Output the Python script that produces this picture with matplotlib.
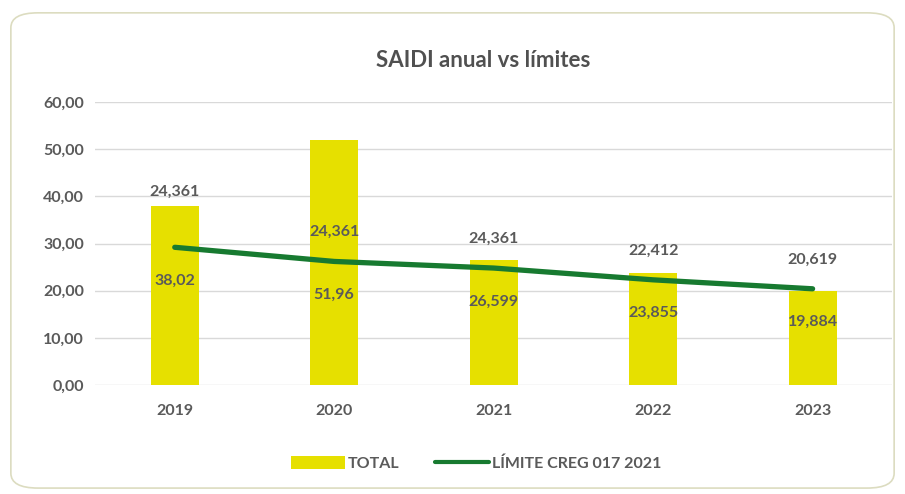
import matplotlib.pyplot as plt
import numpy as np
from matplotlib.patches import FancyBboxPatch

plt.rcParams['font.family'] = ['Lato', 'DejaVu Sans']

years = ["2019", "2020", "2021", "2022", "2023"]
total = [38.02, 51.96, 26.599, 23.855, 19.884]
total_labels = ["38,02", "51,96", "26,599", "23,855", "19,884"]
limite = [29.2, 26.2, 24.8, 22.3, 20.4]
limite_labels = ["24,361", "24,361", "24,361", "22,412", "20,619"]
yticks = [0, 10, 20, 30, 40, 50, 60]

bar_color = "#E6E000"
line_color = "#177A30"
text_color = "#5a5a5a"


def main():
    fig = plt.figure(figsize=(9.05, 4.94), dpi=100)

    # rounded frame around the chart, kept behind the axes
    frame = FancyBboxPatch((0.012, 0.012), 0.976, 0.962, boxstyle="round,pad=0,rounding_size=0.03",
                           transform=fig.transFigure, facecolor="white", edgecolor="#dcdcc0",
                           linewidth=1.2, zorder=-1)
    fig.patches.append(frame)

    ax = fig.add_axes([0.105, 0.2206, 0.881, 0.5729])
    ax.patch.set_alpha(0)
    x = np.arange(len(years))

    bars = ax.bar(x, total, width=0.3, color=bar_color, zorder=2, label="TOTAL")
    line, = ax.plot(x, limite, color=line_color, linewidth=3.8, solid_capstyle="round", zorder=3,
                    label="LÍMITE CREG 017 2021")

    for i in range(len(years)):
        ax.annotate(total_labels[i], (x[i], limite[i]), xytext=(0, -24), textcoords="offset points",
                    ha="center", va="center", fontsize=11.5, color=text_color, fontweight="bold", zorder=4)
        if i == 0:
            base = total[i]
            off = 10
        else:
            base = limite[i]
            off = 21
        ax.annotate(limite_labels[i], (x[i], base), xytext=(0, off), textcoords="offset points",
                    ha="center", va="center", fontsize=11.5, color=text_color, fontweight="bold", zorder=4)

    ax.set_xlim(-0.5, len(years) - 0.5)
    ax.set_ylim(0, 60)
    ax.set_yticks(yticks)
    ax.set_yticklabels(["%d,00" % v for v in yticks], fontweight="bold")
    ax.set_xticks(x)
    ax.set_xticklabels(years, fontweight="bold")
    ax.tick_params(axis="both", length=0, labelsize=11.5, labelcolor=text_color)
    ax.tick_params(axis="x", pad=14)
    ax.tick_params(axis="y", pad=8)
    ax.grid(axis="y", color="#d9d9d9", linewidth=1, zorder=0)
    for s in ax.spines.values():
        s.set_visible(False)

    fig.text(0.534, 0.878, "SAIDI anual vs límites", ha="center", va="center", fontsize=16,
             color="#505050", fontweight="bold")

    leg = ax.legend([bars, line], ["TOTAL", "LÍMITE CREG 017 2021"], loc="center",
                    bbox_to_anchor=(0.478, -0.276), ncol=2, frameon=False, fontsize=11.5,
                    handlelength=3.4, handleheight=0.9, columnspacing=2.2, handletextpad=0.2,
                    prop={"weight": "bold", "size": 11.5})
    for t in leg.get_texts():
        t.set_color(text_color)
    leg.get_lines()[0].set_linewidth(3)

    fig.savefig("out.png", dpi=100)


if __name__ == "__main__":
    main()
